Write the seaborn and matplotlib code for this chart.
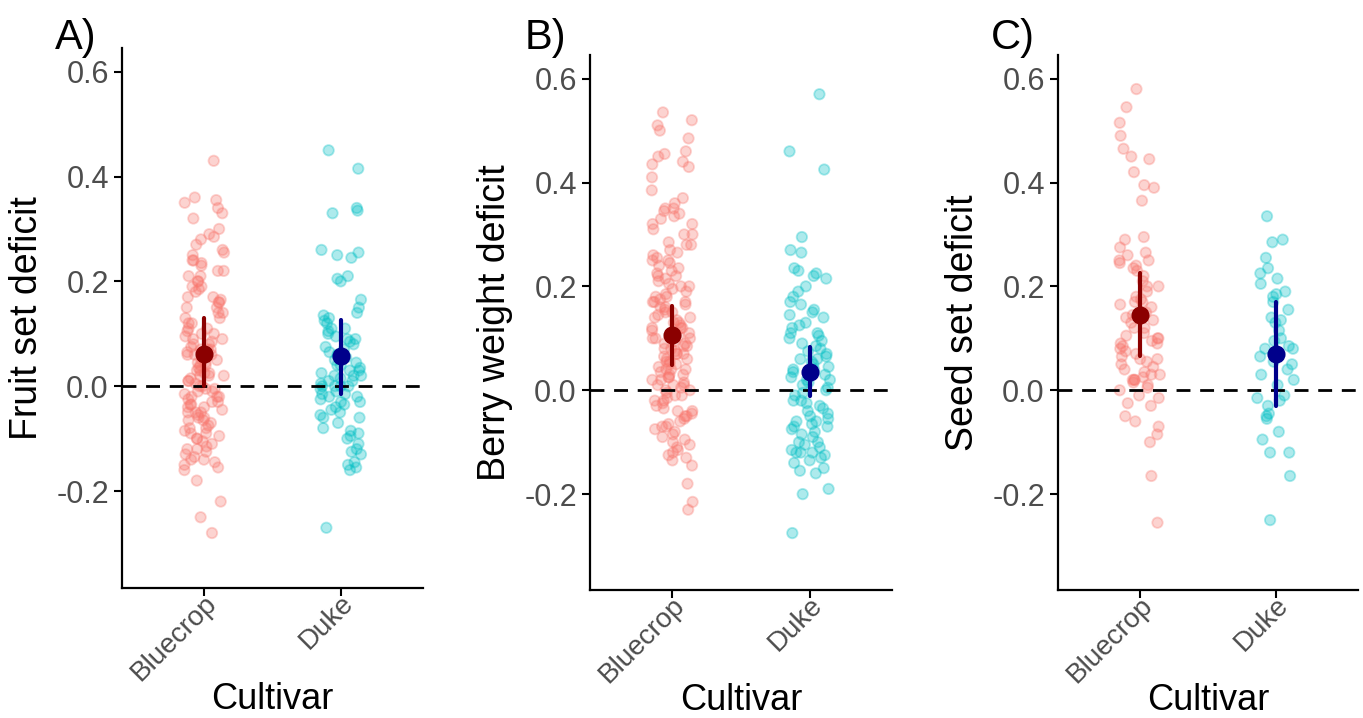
import numpy as np
import pandas as pd
import matplotlib
matplotlib.use("Agg")
import matplotlib.pyplot as plt
import matplotlib.transforms as mtransforms
import seaborn as sns

cultivars = ["Bluecrop", "Duke"]
panel_labels = ["A)", "B)", "C)"]
y_titles = ["Fruit set deficit", "Berry weight deficit", "Seed set deficit"]
y_ticks = [-0.2, 0.0, 0.2, 0.4, 0.6]
y_ticklabels = ["-0.2", "0.0", "0.2", "0.4", "0.6"]

fruit_bluecrop = [0.43, 0.36, 0.355, 0.35, 0.34, 0.33, 0.32, 0.30, 0.29, 0.285, 0.27, 0.26, 0.255, 0.25,
                  0.24, 0.235, 0.23, 0.22, 0.21, 0.20, 0.20, 0.19, 0.185, 0.18, 0.17, 0.165, 0.16, 0.15,
                  0.15, 0.14, 0.13, 0.12, 0.12, 0.11, 0.105, 0.10, 0.10, 0.09, 0.09, 0.085, 0.08, 0.08,
                  0.075, 0.07, 0.07, 0.065, 0.06, 0.06, 0.055, 0.05, 0.05, 0.045, 0.04, 0.04, 0.035, 0.03,
                  0.03, 0.025, 0.02, 0.02, 0.015, 0.01, 0.01, 0.005, 0.0, 0.0, -0.005, -0.01, -0.01,
                  -0.015, -0.02, -0.02, -0.025, -0.03, -0.03, -0.035, -0.04, -0.04, -0.045, -0.05, -0.05,
                  -0.055, -0.06, -0.06, -0.065, -0.07, -0.075, -0.08, -0.085, -0.09, -0.09, -0.095, -0.10,
                  -0.105, -0.11, -0.115, -0.12, -0.125, -0.13, -0.135, -0.14, -0.145, -0.15, -0.155, -0.16,
                  -0.18, -0.22, -0.25, -0.28, 0.28, 0.24, 0.22, 0.19, 0.17, 0.14, 0.11, 0.095, 0.07,
                  0.045, 0.025, -0.005, -0.035, -0.065, -0.10, -0.12, -0.14, 0.21, 0.16, 0.13, 0.06, 0.02,
                  -0.02, -0.05, -0.08]
fruit_duke = [0.45, 0.415, 0.34, 0.335, 0.33, 0.26, 0.255, 0.25, 0.245, 0.21, 0.205, 0.20, 0.165, 0.15,
              0.14, 0.135, 0.13, 0.125, 0.12, 0.11, 0.105, 0.10, 0.095, 0.09, 0.085, 0.08, 0.075, 0.07,
              0.065, 0.06, 0.055, 0.05, 0.045, 0.04, 0.035, 0.03, 0.025, 0.02, 0.02, 0.015, 0.01, 0.01,
              0.005, 0.0, 0.0, 0.0, -0.005, -0.01, -0.015, -0.02, -0.02, -0.025, -0.03, -0.035, -0.04,
              -0.045, -0.05, -0.055, -0.06, -0.07, -0.08, -0.085, -0.09, -0.095, -0.10, -0.11, -0.12,
              -0.125, -0.13, -0.145, -0.15, -0.155, -0.16, -0.27, 0.09, 0.04, 0.0, -0.03, 0.06, 0.02,
              -0.06, 0.11, 0.03, -0.015]
berry_bluecrop = [0.535, 0.52, 0.51, 0.50, 0.485, 0.46, 0.455, 0.45, 0.44, 0.435, 0.43, 0.41, 0.385, 0.37,
                  0.36, 0.35, 0.35, 0.345, 0.34, 0.335, 0.33, 0.32, 0.32, 0.31, 0.30, 0.285, 0.28, 0.28,
                  0.27, 0.265, 0.26, 0.255, 0.25, 0.245, 0.24, 0.235, 0.23, 0.225, 0.22, 0.215, 0.21,
                  0.205, 0.20, 0.195, 0.19, 0.185, 0.18, 0.18, 0.175, 0.17, 0.17, 0.165, 0.16, 0.155,
                  0.15, 0.15, 0.145, 0.14, 0.14, 0.135, 0.13, 0.125, 0.12, 0.12, 0.115, 0.11, 0.11, 0.105,
                  0.10, 0.10, 0.095, 0.09, 0.09, 0.085, 0.08, 0.08, 0.075, 0.07, 0.07, 0.065, 0.06, 0.06,
                  0.055, 0.05, 0.05, 0.045, 0.04, 0.04, 0.035, 0.03, 0.03, 0.025, 0.02, 0.02, 0.015, 0.01,
                  0.01, 0.005, 0.0, 0.0, -0.005, -0.01, -0.015, -0.02, -0.025, -0.03, -0.035, -0.04,
                  -0.045, -0.05, -0.055, -0.06, -0.065, -0.07, -0.075, -0.08, -0.085, -0.09, -0.095,
                  -0.10, -0.105, -0.11, -0.115, -0.12, -0.125, -0.13, -0.135, -0.145, -0.18, -0.215,
                  -0.23, 0.30, 0.25, 0.20, 0.16, 0.13, 0.10, 0.07, 0.04, 0.01, -0.02, -0.05, 0.22, 0.17,
                  0.12, 0.085, 0.055, 0.025, -0.01, -0.04, -0.07]
berry_duke = [0.57, 0.46, 0.425, 0.295, 0.27, 0.265, 0.235, 0.23, 0.225, 0.22, 0.215, 0.20, 0.19, 0.18,
              0.17, 0.165, 0.155, 0.15, 0.145, 0.14, 0.13, 0.125, 0.12, 0.11, 0.105, 0.10, 0.095, 0.09,
              0.085, 0.08, 0.075, 0.07, 0.065, 0.06, 0.055, 0.05, 0.045, 0.04, 0.035, 0.03, 0.025, 0.02,
              0.015, 0.01, 0.005, 0.0, -0.005, -0.01, -0.02, -0.025, -0.03, -0.04, -0.045, -0.05,
              -0.055, -0.06, -0.065, -0.07, -0.075, -0.08, -0.085, -0.09, -0.10, -0.105, -0.11, -0.115,
              -0.12, -0.12, -0.125, -0.13, -0.135, -0.14, -0.15, -0.155, -0.16, -0.19, -0.20, -0.275,
              0.06, 0.02, -0.02, -0.06, -0.10, 0.11, 0.04, -0.035, -0.07, -0.12]
seed_bluecrop = [0.58, 0.545, 0.515, 0.49, 0.465, 0.45, 0.445, 0.42, 0.395, 0.39, 0.365, 0.295, 0.29,
                 0.275, 0.265, 0.26, 0.25, 0.245, 0.24, 0.235, 0.23, 0.22, 0.21, 0.20, 0.19, 0.18, 0.175,
                 0.17, 0.165, 0.16, 0.15, 0.145, 0.14, 0.135, 0.13, 0.12, 0.11, 0.105, 0.10, 0.095, 0.09,
                 0.085, 0.08, 0.075, 0.07, 0.065, 0.06, 0.055, 0.05, 0.045, 0.04, 0.035, 0.03, 0.025,
                 0.02, 0.02, 0.015, 0.01, 0.005, 0.0, -0.01, -0.015, -0.025, -0.03, -0.05, -0.06, -0.07,
                 -0.085, -0.10, -0.165, -0.255, 0.25, 0.17, 0.09, 0.02, 0.12, 0.06, 0.03, 0.20, 0.10]
seed_duke = [0.335, 0.29, 0.285, 0.255, 0.235, 0.225, 0.215, 0.205, 0.19, 0.185, 0.18, 0.17, 0.155, 0.14,
             0.135, 0.13, 0.115, 0.10, 0.095, 0.085, 0.08, 0.08, 0.075, 0.07, 0.065, 0.055, 0.05, 0.04,
             0.03, 0.02, 0.01, -0.01, -0.015, -0.02, -0.03, -0.045, -0.05, -0.055, -0.08, -0.095, -0.12,
             -0.12, -0.165, -0.25]

# model estimates with 95% CI: [lower, estimate, upper]
fruit_est_bluecrop = [0.0, 0.062, 0.13]
fruit_est_duke = [-0.015, 0.057, 0.127]
berry_est_bluecrop = [0.048, 0.107, 0.163]
berry_est_duke = [-0.012, 0.035, 0.083]
seed_est_bluecrop = [0.065, 0.145, 0.225]
seed_est_duke = [-0.03, 0.07, 0.17]

raw = [(fruit_bluecrop, fruit_duke), (berry_bluecrop, berry_duke), (seed_bluecrop, seed_duke)]
ests = [(fruit_est_bluecrop, fruit_est_duke), (berry_est_bluecrop, berry_est_duke),
        (seed_est_bluecrop, seed_est_duke)]

point_colors = ["#F8766D", "#00BFC4"]
mean_colors = ["#8B0000", "#00008B"]

sns.set_theme(style="ticks")
plt.rcParams["font.family"] = ["Liberation Sans", "DejaVu Sans"]

fig = plt.figure(figsize=(13.63, 7.18), dpi=100)
rects = [[0.0895, 0.181, 0.2208, 0.752],
         [0.4329, 0.178, 0.2215, 0.745],
         [0.7762, 0.178, 0.2200, 0.745]]
label_x = [0.040, 0.385, 0.727]
shift = mtransforms.ScaledTranslation(9 / 100, 0, fig.dpi_scale_trans)

for i in range(3):
    ax = fig.add_axes(rects[i])
    b, d = raw[i]
    df = pd.DataFrame({"Cultivar": ["Bluecrop"] * len(b) + ["Duke"] * len(d),
                       "value": list(b) + list(d)})
    sns.stripplot(data=df, x="Cultivar", y="value", hue="Cultivar", order=cultivars,
                  hue_order=cultivars, palette=point_colors, jitter=0.15, size=7.5,
                  alpha=0.32, linewidth=1.3, edgecolor="face", legend=False, ax=ax, zorder=2)
    ax.axhline(0, color="black", linestyle=(0, (5, 3.5)), linewidth=2.0, zorder=3)
    eb, ed = ests[i]
    edf = pd.DataFrame({"Cultivar": ["Bluecrop"] * 3 + ["Duke"] * 3,
                        "value": list(eb) + list(ed)})
    sns.pointplot(data=edf, x="Cultivar", y="value", hue="Cultivar", order=cultivars,
                  hue_order=cultivars, palette=mean_colors, estimator="median",
                  errorbar=("pi", 100), linestyle="none", markersize=11,
                  err_kws={"linewidth": 3.0}, legend=False, ax=ax)
    for coll in ax.lines:
        coll.set_zorder(5)
    ax.set_xlim(-0.6, 1.6)
    ax.set_ylim(-0.385, 0.645)
    ax.set_yticks(y_ticks)
    ax.set_yticklabels(y_ticklabels)
    ax.tick_params(axis="both", colors="#4D4D4D", labelsize=22, length=6, width=1.5,
                   direction="out")
    ax.tick_params(axis="both", color="black")
    ax.tick_params(axis="x", labelsize=20, pad=2)
    for lab in ax.get_xticklabels():
        lab.set_rotation(45)
        lab.set_ha("right")
        lab.set_va("center")
        lab.set_rotation_mode("anchor")
        lab.set_transform(lab.get_transform() + shift)
    ax.set_ylabel(y_titles[i], fontsize=27, color="black", labelpad=8)
    ax.set_xlabel("Cultivar", fontsize=26, color="black", va="center")
    ax.xaxis.set_label_coords(0.5, -0.206)
    sns.despine(ax=ax)
    for s in ["left", "bottom"]:
        ax.spines[s].set_linewidth(1.6)
        ax.spines[s].set_color("black")
    fig.text(label_x[i], 0.975, panel_labels[i], fontsize=30, color="black", va="top", ha="left")

fig.savefig("out.png", dpi=100, facecolor="white")
